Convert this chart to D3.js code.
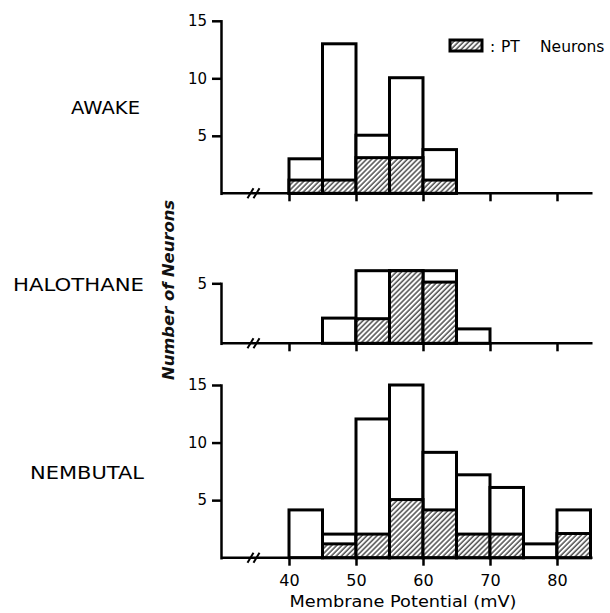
<!DOCTYPE html>
<html>
<head>
<meta charset="utf-8">
<script src="https://cdn.jsdelivr.net/npm/d3@7"></script>
<style>
  body { margin: 0; background: #fff; }
  svg { display: block; }
  .tick text { font-family: 'DejaVu Sans', sans-serif; font-size: 15px; fill: #000; }
</style>
</head>
<body>
<svg id="chart"></svg>
<script>
// bin left edges (mV), 5 mV wide
let awakeBins = [40, 45, 50, 55, 60]
let awakeTotal = [3, 13, 5.05, 10.05, 3.8]
let awakePT = [1.15, 1.15, 3.1, 3.1, 1.15]

let halothaneBins = [45, 50, 55, 60, 65]
let halothaneTotal = [2.1, 6.05, 6.05, 6.05, 1.2]
let halothanePT = [0, 2.05, 6.05, 5.1, 0]

let nembutalBins = [40, 45, 50, 55, 60, 65, 70, 75, 80]
let nembutalTotal = [4.15, 2.05, 12.05, 15, 9.15, 7.2, 6.1, 1.2, 4.15]
let nembutalPT = [0, 1.2, 2.05, 5.05, 4.15, 2.05, 2.05, 0, 2.1]

let xTicks = [40, 50, 60, 70, 80]
let binWidth = 5

let width = 610
let height = 613
let font = "'DejaVu Sans', sans-serif"

let svg = d3.select('#chart')
svg.attr('width', width)
svg.attr('height', height)

// hatch for PT neurons
let defs = svg.append('defs')
defs.append('pattern')
    .attr('id', 'hatch')
    .attr('patternUnits', 'userSpaceOnUse')
    .attr('width', 3.6)
    .attr('height', 3.6)
    .attr('patternTransform', 'rotate(45)')
    .call(p => {
        p.append('rect').attr('width', 3.6).attr('height', 3.6).attr('fill', '#fff')
        p.append('line')
            .attr('x1', 1).attr('y1', 0).attr('x2', 1).attr('y2', 3.6)
            .attr('stroke', '#222').attr('stroke-width', 1.2)
    })

let xScale = d3.scaleLinear()
    .domain([40, 80])
    .range([289, 557])

let axisStart = 29.85
let axisEnd = 85.3
let axisX = xScale(axisStart)

let panels = [
    { name: 'AWAKE', bins: awakeBins, total: awakeTotal, pt: awakePT,
      yMax: 15, yTicks: [5, 10, 15], top: 20.8, bottom: 193.3, labelX: 140, labelY: 114, labelLen: 69 },
    { name: 'HALOTHANE', bins: halothaneBins, total: halothaneTotal, pt: halothanePT,
      yMax: 5, yTicks: [5], top: 283.3, bottom: 343.3, labelX: 144, labelY: 291, labelLen: 131 },
    { name: 'NEMBUTAL', bins: nembutalBins, total: nembutalTotal, pt: nembutalPT,
      yMax: 15, yTicks: [5, 10, 15], top: 385, bottom: 557.7, labelX: 144, labelY: 479, labelLen: 114 }
]

let drawPanel = (panel, showLabels) => {
    let yScale = d3.scaleLinear()
        .domain([0, panel.yMax])
        .range([panel.bottom, panel.top])

    let g = svg.append('g')

    let rows = panel.bins.map((b, i) => ({ bin: b, total: panel.total[i], pt: panel.pt[i] }))

    g.selectAll('rect.total')
        .data(rows)
        .enter()
        .append('rect')
        .attr('class', 'total')
        .attr('x', d => xScale(d.bin))
        .attr('width', d => xScale(d.bin + binWidth) - xScale(d.bin))
        .attr('y', d => yScale(d.total))
        .attr('height', d => yScale(0) - yScale(d.total))
        .attr('fill', '#fff')
        .attr('stroke', '#000')
        .attr('stroke-width', 3)

    g.selectAll('rect.pt')
        .data(rows.filter(d => d.pt > 0))
        .enter()
        .append('rect')
        .attr('class', 'pt')
        .attr('x', d => xScale(d.bin))
        .attr('width', d => xScale(d.bin + binWidth) - xScale(d.bin))
        .attr('y', d => yScale(d.pt))
        .attr('height', d => yScale(0) - yScale(d.pt))
        .attr('fill', 'url(#hatch)')
        .attr('stroke', '#000')
        .attr('stroke-width', 3)

    // y axis
    let yAxis = d3.axisLeft(yScale)
        .tickValues(panel.yTicks)
        .tickSize(9)
        .tickSizeOuter(0)
        .tickPadding(5)
        .tickFormat(d3.format('d'))

    g.append('g')
        .attr('transform', 'translate(' + axisX + ',0)')
        .call(yAxis)
        .call(a => a.selectAll('path, line').attr('stroke', '#000').attr('stroke-width', 2.5))
        .call(a => a.select('.domain').attr('stroke-linecap', 'square'))

    // x axis
    let xAxis = d3.axisBottom(xScale)
        .tickValues(xTicks)
        .tickSize(8)
        .tickSizeOuter(0)
        .tickPadding(9)
        .tickFormat(showLabels ? d3.format('d') : '')

    let xg = g.append('g')
        .attr('transform', 'translate(0,' + yScale(0) + ')')
        .call(xAxis)
    xg.select('.domain').remove()
    xg.selectAll('line').attr('stroke', '#000').attr('stroke-width', 2.5)
    xg.selectAll('text').style('font-size', '16px')

    g.append('line')
        .attr('x1', axisX).attr('x2', xScale(axisEnd))
        .attr('y1', yScale(0)).attr('y2', yScale(0))
        .attr('stroke', '#000').attr('stroke-width', 2.5)

    // axis break
    let bx = xScale(34.7)
    let by = yScale(0)
    ;[-3, 3].forEach(off => {
        g.append('line')
            .attr('x1', bx + off - 3).attr('y1', by + 5)
            .attr('x2', bx + off + 3).attr('y2', by - 5)
            .attr('stroke', '#000').attr('stroke-width', 2)
    })

    g.append('text')
        .attr('x', panel.labelX)
        .attr('y', panel.labelY)
        .attr('text-anchor', 'end')
        .attr('textLength', panel.labelLen)
        .attr('lengthAdjust', 'spacingAndGlyphs')
        .style('font-family', font)
        .style('font-size', '17px')
        .style('fill', '#000')
        .text(panel.name)
}

panels.forEach((p, i) => drawPanel(p, i === panels.length - 1))

// axis titles
svg.append('text')
    .attr('transform', 'translate(174,290) rotate(-90)')
    .attr('text-anchor', 'middle')
    .attr('textLength', 180)
    .attr('lengthAdjust', 'spacingAndGlyphs')
    .style('font-family', font)
    .style('font-size', '16px')
    .style('font-style', 'italic')
    .style('font-weight', 'bold')
    .style('fill', '#111')
    .text('Number of Neurons')

svg.append('text')
    .attr('x', 403)
    .attr('y', 607)
    .attr('text-anchor', 'middle')
    .attr('textLength', 227)
    .attr('lengthAdjust', 'spacingAndGlyphs')
    .style('font-family', font)
    .style('font-size', '16px')
    .style('fill', '#000')
    .text('Membrane Potential (mV)')

// legend
let legend = svg.append('g')
legend.append('rect')
    .attr('x', 450).attr('y', 40)
    .attr('width', 32).attr('height', 11)
    .attr('fill', 'url(#hatch)')
    .attr('stroke', '#000')
    .attr('stroke-width', 3)
let legendText = [[':', 490], ['PT', 501], ['Neurons', 540]]
legend.selectAll('text')
    .data(legendText)
    .enter()
    .append('text')
    .attr('x', d => d[1]).attr('y', 52)
    .style('font-family', font)
    .style('font-size', '15.5px')
    .style('fill', '#000')
    .text(d => d[0])
</script>
</body>
</html>
